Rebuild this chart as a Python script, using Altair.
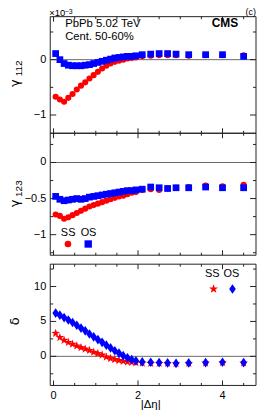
import altair as alt
import pandas as pd

# ---------------- data ----------------
deta = [0.05, 0.15, 0.25, 0.35, 0.45, 0.55, 0.65, 0.75, 0.85, 0.95,
        1.05, 1.15, 1.25, 1.35, 1.45, 1.55, 1.65, 1.75, 1.85, 1.95,
        2.1, 2.3, 2.5, 2.7, 2.9, 3.2, 3.6, 4.0, 4.5]

g112_ss = [-0.67, -0.72, -0.76, -0.69, -0.62, -0.54, -0.47, -0.41, -0.34, -0.28,
           -0.22, -0.16, -0.11, -0.07, -0.04, -0.02, 0.00, 0.02, 0.03, 0.04,
           0.06, 0.07, 0.08, 0.08, 0.08, 0.07, 0.08, 0.08, 0.08]
g112_os = [0.11, 0.00, -0.07, -0.10, -0.11, -0.11, -0.11, -0.10, -0.09, -0.07,
           -0.05, -0.03, -0.01, 0.01, 0.03, 0.04, 0.05, 0.06, 0.06, 0.07,
           0.09, 0.10, 0.11, 0.11, 0.10, 0.09, 0.09, 0.09, 0.06]

g123_ss = [-0.72, -0.74, -0.78, -0.76, -0.73, -0.70, -0.67, -0.64, -0.61, -0.59,
           -0.57, -0.55, -0.53, -0.51, -0.49, -0.47, -0.46, -0.44, -0.42, -0.41,
           -0.38, -0.37, -0.38, -0.36, -0.35, -0.34, -0.32, -0.33, -0.31]
g123_os = [-0.47, -0.51, -0.53, -0.52, -0.51, -0.50, -0.51, -0.50, -0.48, -0.47,
           -0.46, -0.45, -0.44, -0.43, -0.42, -0.41, -0.40, -0.39, -0.39, -0.38,
           -0.37, -0.34, -0.35, -0.36, -0.35, -0.35, -0.34, -0.35, -0.35]

delta_ss = [3.3, 2.7, 2.3, 2.0, 1.75, 1.5, 1.25, 1.05, 0.85, 0.6,
            0.4, 0.2, -0.1, -0.3, -0.45, -0.6, -0.7, -0.8, -0.85, -0.9,
            -0.95, -1.0, -1.0, -1.0, -1.05, -1.0, -0.95, -0.9, -0.95]
delta_os = [6.2, 5.9, 5.55, 5.2, 4.85, 4.45, 4.05, 3.65, 3.2, 2.8,
            2.4, 2.0, 1.6, 1.2, 0.8, 0.45, 0.1, -0.2, -0.45, -0.65,
            -0.8, -0.85, -0.9, -0.95, -1.0, -0.95, -0.9, -0.85, -0.9]

x_tick_vals = [0, 0.5, 1, 1.5, 2, 2.5, 3, 3.5, 4, 4.5]
x_major = [0, 2, 4]
p1_ticks = [-1, -0.5, 0, 0.5]
p1_major = [-1, 0]
p2_ticks = [-1.25, -1, -0.75, -0.5, -0.25, 0, 0.25]
p2_major = [-1, -0.5, 0]
p3_ticks = [-2.5, 0, 2.5, 5, 7.5, 10, 12.5]
p3_major = [0, 5, 10]

# ---------------- layout ----------------
W, H = 207, 371
FONT = "Liberation Sans"
RED, BLUE = "#ff0000", "#0000ff"
FRAME = "#222222"
STAR = ("M0,-1L0.235,-0.324L0.951,-0.309L0.380,0.124L0.588,0.809L0,0.4"
        "L-0.588,0.809L-0.380,0.124L-0.951,-0.309L-0.235,-0.324Z")
DIAMOND = "M0,-1L0.68,0L0,1L-0.68,0Z"

XDOM = [-0.078, 4.793]
PAN = {
    1: dict(dom=[-1.33, 0.777], top=0.0, bot=117.3),
    2: dict(dom=[-1.285, 0.405], top=117.3, bot=240.0),
    3: dict(dom=[-4.17, 13.2], top=249.0, bot=371.0),
}

xs = alt.Scale(domain=XDOM, nice=False, zero=False)


def ys(p):
    d = PAN[p]
    return alt.Scale(domain=d["dom"], range=[d["bot"], d["top"]], nice=False, zero=False)


def lab(v):
    s = ("%g" % v)
    return s.replace("-", "\u2212")


layers = []

# frames
frames = pd.DataFrame({"t": [PAN[p]["top"] for p in PAN], "b": [PAN[p]["bot"] for p in PAN]})
layers.append(
    alt.Chart(frames).mark_rect(fillOpacity=0, stroke=FRAME, strokeWidth=1).encode(
        x=alt.value(0), x2=alt.value(W),
        y=alt.Y("t:Q", scale=None), y2="b:Q")
)

# zero lines
for p in PAN:
    layers.append(
        alt.Chart(pd.DataFrame({"z": [0]})).mark_rule(color="#6a6a6a", strokeWidth=1).encode(
            x=alt.value(0), x2=alt.value(W),
            y=alt.Y("z:Q", scale=ys(p), axis=None))
    )

# y ticks (left + right, inward) and y labels
for p, vals, majors in [(1, p1_ticks, p1_major), (2, p2_ticks, p2_major), (3, p3_ticks, p3_major)]:
    rows = []
    for v in vals:
        ln = 6 if v in majors else 3
        rows.append({"v": v, "xa": 0, "xb": ln})
        rows.append({"v": v, "xa": W, "xb": W - ln})
    layers.append(
        alt.Chart(pd.DataFrame(rows)).mark_rule(color=FRAME, strokeWidth=1).encode(
            x=alt.X("xa:Q", scale=None), x2="xb:Q",
            y=alt.Y("v:Q", scale=ys(p), axis=None))
    )
    labdf = pd.DataFrame({"v": majors, "s": [lab(v) for v in majors]})
    layers.append(
        alt.Chart(labdf).mark_text(fontSize=11, font=FONT, align="right", baseline="middle",
                                   color="black").encode(
            x=alt.value(-4), y=alt.Y("v:Q", scale=ys(p), axis=None), text="s:N")
    )

# x ticks (top + bottom of every panel, inward)
rows = []
for p in PAN:
    t, b = PAN[p]["top"], PAN[p]["bot"]
    for v in x_tick_vals:
        ln = 5 if v in x_major else 2.5
        rows.append({"v": v, "ya": t, "yb": t + ln})
        rows.append({"v": v, "ya": b, "yb": b - ln})
layers.append(
    alt.Chart(pd.DataFrame(rows)).mark_rule(color=FRAME, strokeWidth=1).encode(
        x=alt.X("v:Q", scale=xs, axis=None),
        y=alt.Y("ya:Q", scale=None), y2="yb:Q")
)
xlab = pd.DataFrame({"v": x_major, "s": [lab(v) for v in x_major]})
layers.append(
    alt.Chart(xlab).mark_text(fontSize=11, font=FONT, align="center", baseline="top",
                              color="black").encode(
        x=alt.X("v:Q", scale=xs, axis=None), y=alt.value(H + 5), text="s:N")
)

series = [
    (1, g112_ss, g112_os, "circle", 38, "square", 46),
    (2, g123_ss, g123_os, "circle", 38, "square", 46),
    (3, delta_ss, delta_os, STAR, 85, DIAMOND, 95),
]
for p, ss, os_, sh_ss, sz_ss, sh_os, sz_os in series:
    df = pd.DataFrame({"deta": deta, "ss": ss, "os": os_})
    layers.append(
        alt.Chart(df).mark_point(filled=True, shape=sh_ss, size=sz_ss, color=RED, opacity=1).encode(
            x=alt.X("deta:Q", scale=xs, axis=None),
            y=alt.Y("ss:Q", scale=ys(p), axis=None))
    )
    layers.append(
        alt.Chart(df).mark_point(filled=True, shape=sh_os, size=sz_os, color=BLUE, opacity=1).encode(
            x=alt.X("deta:Q", scale=xs, axis=None),
            y=alt.Y("os:Q", scale=ys(p), axis=None))
    )

one = pd.DataFrame({"a": [0]})


def txt(s, x, y, size=11, align="left", baseline="alphabetic", weight="normal", angle=0, font=FONT):
    kw = dict(text=s, fontSize=size, font=font, align=align, baseline=baseline,
              fontWeight=weight, color="black")
    if angle:
        kw["angle"] = angle
    return alt.Chart(one).mark_text(**kw).encode(x=alt.value(x), y=alt.value(y))


def sym(shape, size, color, x, y):
    return alt.Chart(one).mark_point(filled=True, shape=shape, size=size, color=color, opacity=1).encode(
        x=alt.value(x), y=alt.value(y))


# panel 1 annotations
layers += [
    txt("\u00d710", -1, -0.6, size=9.5),
    txt("\u22123", 14.5, -2.2, size=7),
    txt("(c)", 207, -1.8, size=9, align="right"),
    txt("PbPb 5.02 TeV", 15, 10.7, size=11.4),
    txt("Cent. 50-60%", 15, 23.7, size=11.3),
    txt("CMS", 189, 10.7, size=12, align="right", weight="bold"),
]
# y titles
layers += [
    txt("\u03b3", -35, 67, size=13, align="center", baseline="middle", angle=270, font="DejaVu Sans"),
    txt("112", -31.5, 52, size=10, align="center", baseline="middle", angle=270),
    txt("\u03b3", -35, 188, size=13, align="center", baseline="middle", angle=270, font="DejaVu Sans"),
    txt("123", -31.5, 173, size=10, align="center", baseline="middle", angle=270),
    txt("\u03b4", -35, 306.5, size=13, align="center", baseline="middle", angle=270, font="DejaVu Sans"),
    txt("|\u0394\u03b7|", 101, 390.5, size=11.5, align="center", baseline="middle"),
]
# legends
layers += [
    txt("SS", 18, 217.7, size=11, align="center", baseline="middle"),
    txt("OS", 38.5, 217.7, size=11, align="center", baseline="middle"),
    sym("circle", 45, RED, 17.8, 228.7),
    sym("square", 55, BLUE, 38.2, 228.7),
    txt("SS", 163, 259.3, size=11, align="center", baseline="middle"),
    txt("OS", 182.2, 259.3, size=11, align="center", baseline="middle"),
    sym(STAR, 90, RED, 164.3, 274),
    sym(DIAMOND, 95, BLUE, 183.3, 274),
]

chart = alt.layer(*layers).resolve_scale(y="independent").properties(
    width=W, height=H,
    autosize=alt.AutoSizeParams(type="none"),
    padding={"left": 42.5, "top": 7.5, "right": 2, "bottom": 26},
).configure_view(stroke=None)

chart.save("out.html", embed_options={"renderer": "svg", "actions": False})
